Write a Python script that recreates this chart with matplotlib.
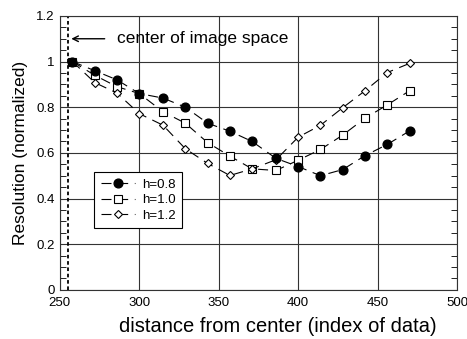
import numpy as np
import matplotlib.pyplot as plt
from matplotlib.ticker import MultipleLocator

plt.rcParams['font.family'] = ['Liberation Sans', 'DejaVu Sans']

# index of data (distance from center)
x = [258, 272, 286, 300, 315, 329, 343, 357, 371, 386, 400, 414, 428, 442, 456, 470]

# normalized resolution for each h
h08 = [1.00, 0.96, 0.92, 0.86, 0.84, 0.80, 0.73, 0.695, 0.65, 0.576, 0.54, 0.50, 0.527, 0.588, 0.637, 0.696]
h10 = [1.00, 0.94, 0.89, 0.86, 0.78, 0.73, 0.645, 0.586, 0.53, 0.523, 0.568, 0.615, 0.678, 0.752, 0.81, 0.872]
h12 = [1.00, 0.908, 0.862, 0.772, 0.721, 0.618, 0.554, 0.501, 0.53, 0.57, 0.669, 0.721, 0.798, 0.872, 0.952, 0.992]

center = 255

fig = plt.figure(figsize=(4.67, 3.39), dpi=100)
ax = fig.add_axes([0.128, 0.145, 0.851, 0.808])

ls = (0, (9, 6))
ax.plot(x, h08, linestyle=ls, color='black', lw=0.8, marker='o', ms=6.3,
        mfc='black', mec='black', label='h=0.8', zorder=4)
ax.plot(x, h10, linestyle=ls, color='black', lw=0.8, marker='s', ms=5.8,
        mfc='white', mec='black', mew=0.8, label='h=1.0', zorder=3)
ax.plot(x, h12, linestyle=ls, color='black', lw=0.8, marker='D', ms=4,
        mfc='white', mec='black', mew=0.8, label='h=1.2', zorder=3)

ax.axvline(center, color='black', lw=1.3, linestyle=(0, (2, 1.5)), zorder=2)

ax.annotate('', xy=(center + 0.5, 1.1), xytext=(280, 1.1),
            arrowprops=dict(arrowstyle='->', color='black', lw=1))
ax.text(286, 1.1, 'center of image space', fontsize=12.5, va='center', ha='left')

ax.set_xlim(250, 500)
ax.set_ylim(0, 1.2)
ax.xaxis.set_major_locator(MultipleLocator(50))
ax.yaxis.set_minor_locator(MultipleLocator(0.05))
ax.set_yticks([0, 0.2, 0.4, 0.6, 0.8, 1.0, 1.2])
ax.set_yticklabels(['0', '0.2', '0.4', '0.6', '0.8', '1', '1.2'])
ax.grid(True, which='major', color='#333333', lw=0.8)
ax.set_axisbelow(True)
ax.tick_params(axis='y', which='both', direction='in', left=True, right=True, labelsize=9.5)
ax.tick_params(axis='y', which='major', length=0)
ax.tick_params(axis='y', which='minor', length=4)
ax.tick_params(axis='x', direction='in', length=0, labelsize=9.5, pad=5)
for s in ax.spines.values():
    s.set_color('#333333')
    s.set_linewidth(0.8)

ax.set_xlabel('distance from center (index of data)', fontsize=14.5, va='center')
ax.xaxis.set_label_coords(0.548, -0.135)
ax.set_ylabel('Resolution (normalized)', fontsize=12.5, labelpad=6)

leg = ax.legend(loc='lower left', bbox_to_anchor=(0.07, 0.2), fontsize=9.5,
                frameon=True, fancybox=False, edgecolor='black', framealpha=1,
                handlelength=2.6, borderpad=0.5, labelspacing=0.25, handletextpad=0.5)
leg.get_frame().set_linewidth(0.8)

fig.savefig('out.png', dpi=100)
